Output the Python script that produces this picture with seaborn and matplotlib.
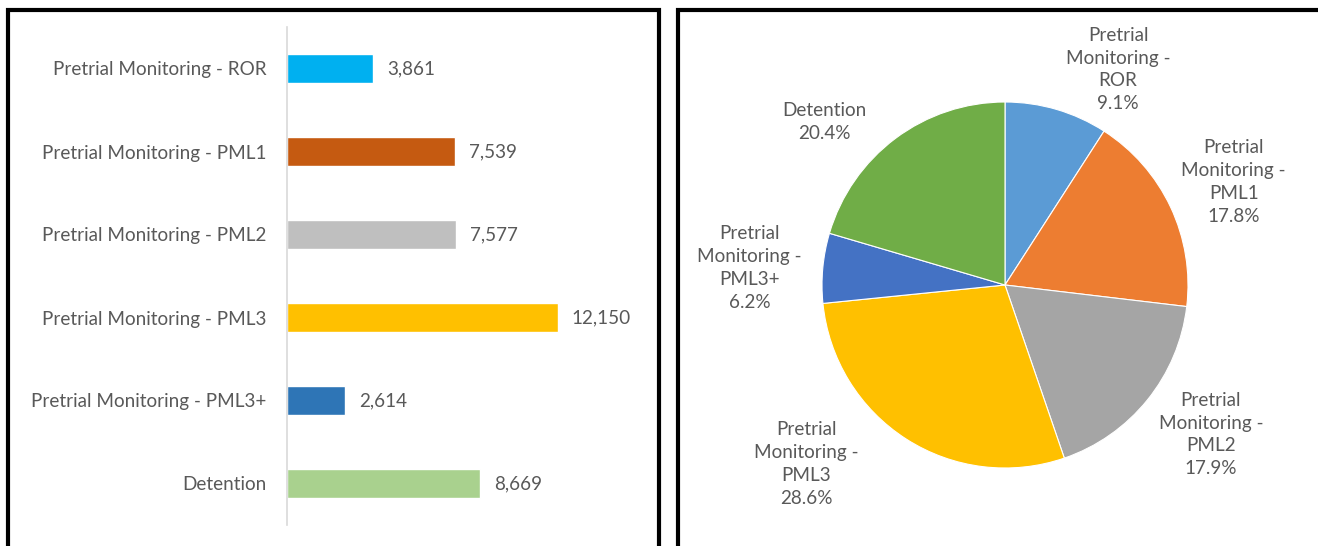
import numpy as np
import pandas as pd
import matplotlib
matplotlib.use("Agg")
import matplotlib.pyplot as plt
import seaborn as sns
from matplotlib.patches import Rectangle

# chart data
categories = ["Pretrial Monitoring - ROR", "Pretrial Monitoring - PML1",
              "Pretrial Monitoring - PML2", "Pretrial Monitoring - PML3",
              "Pretrial Monitoring - PML3+", "Detention"]
counts = [3861, 7539, 7577, 12150, 2614, 8669]
bar_colors = ["#00B0F0", "#C55A11", "#BFBFBF", "#FFC000", "#2E75B6", "#A9D18E"]

pie_labels = ["Pretrial\nMonitoring -\nROR", "Pretrial\nMonitoring -\nPML1",
              "Pretrial\nMonitoring -\nPML2", "Pretrial\nMonitoring -\nPML3",
              "Pretrial\nMonitoring -\nPML3+", "Detention"]
pie_colors = ["#5B9BD5", "#ED7D31", "#A5A5A5", "#FFC000", "#4472C4", "#70AD47"]

# label placement (angle from top, clockwise, and distance in radii)
label_angles = [27.7, 65.8, 126, 228, 273.8, 312]
label_dist = [1.33, 1.37, 1.39, 1.46, 1.40, 1.33]

sns.set_style("white")
plt.rcParams["font.family"] = ["Lato", "DejaVu Sans"]
text_color = "#595959"
fs = 13.6

W, H = 1318, 546
fig = plt.figure(figsize=(W / 100, H / 100), dpi=100)

# panel borders
for x0, x1 in [(8, 659), (678, 1330)]:
    fig.add_artist(Rectangle((x0 / W, -0.05), (x1 - x0) / W, (H - 10) / H + 0.05,
                             transform=fig.transFigure, fill=False,
                             edgecolor="black", linewidth=3))

# bar chart
scale = 271 / 12150  # px per unit
xmax = 16000
ax1 = fig.add_axes([287 / W, 21 / H, xmax * scale / W, 498 / H])
df = pd.DataFrame({"category": categories, "count": counts})
sns.barplot(data=df, y="category", x="count", hue="category", palette=bar_colors,
            width=0.36, legend=False, ax=ax1, saturation=1)
ax1.set_xlim(0, xmax)
ax1.set_ylim(5.5, -0.5)
ax1.set_xlabel("")
ax1.set_ylabel("")
ax1.set_xticks([])
for s in ["top", "right", "bottom"]:
    ax1.spines[s].set_visible(False)
ax1.spines["left"].set_color("#D9D9D9")
ax1.spines["left"].set_linewidth(1.2)
ax1.tick_params(axis="y", length=0, pad=15, labelsize=fs, labelcolor=text_color)
for c in ax1.containers:
    ax1.bar_label(c, labels=[f"{v:,.0f}" for v in c.datavalues], padding=10,
                  fontsize=fs, color=text_color)

# pie chart
cx, cy, r = 1005, 285, 183
ax2 = fig.add_axes([(cx - r) / W, (H - cy - r) / H, 2 * r / W, 2 * r / H])
ax2.pie(counts, colors=pie_colors, startangle=90, counterclock=False,
        wedgeprops=dict(edgecolor="white", linewidth=0.8))
ax2.set_xlim(-1, 1)
ax2.set_ylim(-1, 1)
total = sum(counts)
for lab, v, a, d in zip(pie_labels, counts, label_angles, label_dist):
    t = np.deg2rad(a)
    ax2.text(d * np.sin(t), d * np.cos(t), f"{lab}\n{v / total * 100:.1f}%",
             ha="center", va="center", multialignment="center",
             fontsize=fs, color=text_color, linespacing=1.42, clip_on=False)

fig.savefig("out.png", dpi=100)
